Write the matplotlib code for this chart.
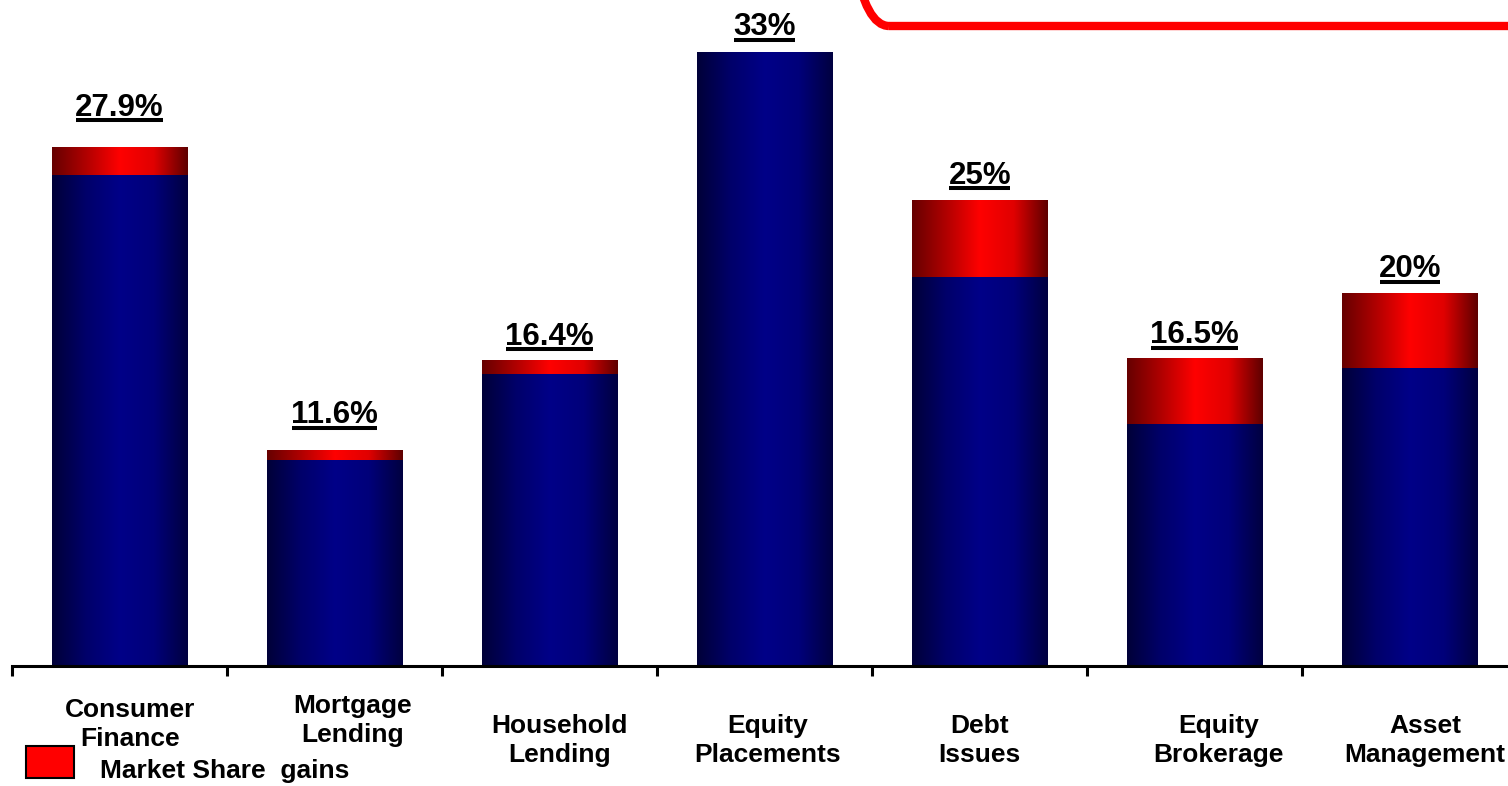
import matplotlib
matplotlib.use('Agg')
import matplotlib.pyplot as plt
import matplotlib.patches as patches
from matplotlib.colors import LinearSegmentedColormap
from matplotlib.transforms import blended_transform_factory
import numpy as np

plt.rcParams['font.family'] = ['Liberation Sans', 'DejaVu Sans']

# === data ===
categories = ['Consumer\nFinance', 'Mortgage\nLending', 'Household\nLending',
              'Equity\nPlacements', 'Debt\nIssues', 'Equity\nBrokerage',
              'Asset\nManagement']
base_share = [26.4, 11.1, 15.7, 33.0, 20.9, 13.0, 16.0]
total_share = [27.9, 11.6, 16.4, 33.0, 25.0, 16.5, 20.0]
value_labels = ['27.9%', '11.6%', '16.4%', '33%', '25%', '16.5%', '20%']
gains = [t - b for t, b in zip(total_share, base_share)]

# label placement tweaks
value_pad = [1.67, 1.45, 0.86, 0.91, 0.91, 0.86, 0.91]   # baseline above bar top, in %
label_dx = [0.047, 0.084, 0.044, 0.012, 0.0, 0.11, 0.07]  # category units
label_y = [-0.088, -0.082, -0.112, -0.112, -0.112, -0.112, -0.112]  # axes fraction

W, H, DPI = 1508, 786, 100
fig = plt.figure(figsize=(W / DPI, H / DPI), dpi=DPI)
ax = fig.add_axes([12 / W, 120 / H, 1496 / W, 666 / H])

blue_cmap = LinearSegmentedColormap.from_list(
    'cyl_blue', ['#000038', '#00006a', '#000088', '#00007a', '#000040'])
red_cmap = LinearSegmentedColormap.from_list(
    'cyl_red', ['#660000', '#b00000', '#ff0000', '#e00000', '#5e0000'])
grad = np.linspace(0, 1, 256).reshape(1, -1)

x = np.arange(len(categories))
width = 0.628
bars_base = ax.bar(x, base_share, width=width, color='none')
bars_gain = ax.bar(x, gains, width=width, bottom=base_share, color='none')

# fill each bar with a horizontal cylinder-style gradient
for group, cmap in [(bars_base, blue_cmap), (bars_gain, red_cmap)]:
    for b in group:
        if b.get_height() <= 0:
            continue
        x0, y0 = b.get_x(), b.get_y()
        ax.imshow(grad, cmap=cmap, aspect='auto', interpolation='bilinear',
                  extent=(x0, x0 + b.get_width(), y0, y0 + b.get_height()),
                  zorder=2)

# value labels above the bars
value_texts = []
for xi, tot, lab, pad in zip(x, total_share, value_labels, value_pad):
    t = ax.text(xi, tot + pad, lab, ha='center', va='baseline',
                fontsize=22.5, fontweight='bold', color='black', zorder=5)
    value_texts.append(t)

ax.set_xlim(-0.5, 6.456)
ax.set_ylim(0, 35.8)
ax.set_xticks([])
ax.set_yticks([])
for side in ['left', 'right', 'top']:
    ax.spines[side].set_visible(False)
ax.spines['bottom'].set_linewidth(2.2)
ax.spines['bottom'].set_color('black')
ax.set_facecolor('none')

# tick marks between categories
ax.set_xticks(np.arange(-0.5, 6.5, 1.0), minor=True)
ax.tick_params(axis='x', which='minor', direction='out', length=7, width=2.2,
               color='black')
ax.tick_params(axis='x', which='major', length=0)

# category labels
trans = blended_transform_factory(ax.transData, ax.transAxes)
for xi, cat, dx, ly in zip(x, categories, label_dx, label_y):
    ax.text(xi + dx, ly, cat, transform=trans, ha='center', va='center',
            fontsize=19, fontweight='bold', linespacing=1.27, clip_on=False)

# underline the value labels
fig.canvas.draw()
renderer = fig.canvas.get_renderer()
for t, tot, pad in zip(value_texts, total_share, value_pad):
    bb = t.get_window_extent(renderer)
    base_px = ax.transData.transform((0, tot + pad))[1]
    yline = base_px - 4.5
    fig.add_artist(plt.Line2D([bb.x0 + 1, bb.x1 - 1], [yline, yline],
                              transform=None, color='black', linewidth=2.9,
                              solid_capstyle='butt'))

# legend swatch
fig.add_artist(patches.Rectangle((26, H - 778), 48, 32, transform=None,
                                 facecolor='#ff0000', edgecolor='black',
                                 linewidth=1.5))
fig.text(100 / W, (H - 771) / H, 'Market Share  gains', ha='left',
         va='center', fontsize=19, fontweight='bold')

# red rounded callout frame at the top right
fig.add_artist(patches.FancyBboxPatch(
    (843, H - 26), 900, 300, transform=None,
    boxstyle='round,pad=0,rounding_size=46',
    facecolor='none', edgecolor='#ff0000', linewidth=6))

fig.savefig('out.png', dpi=DPI, facecolor='white')
